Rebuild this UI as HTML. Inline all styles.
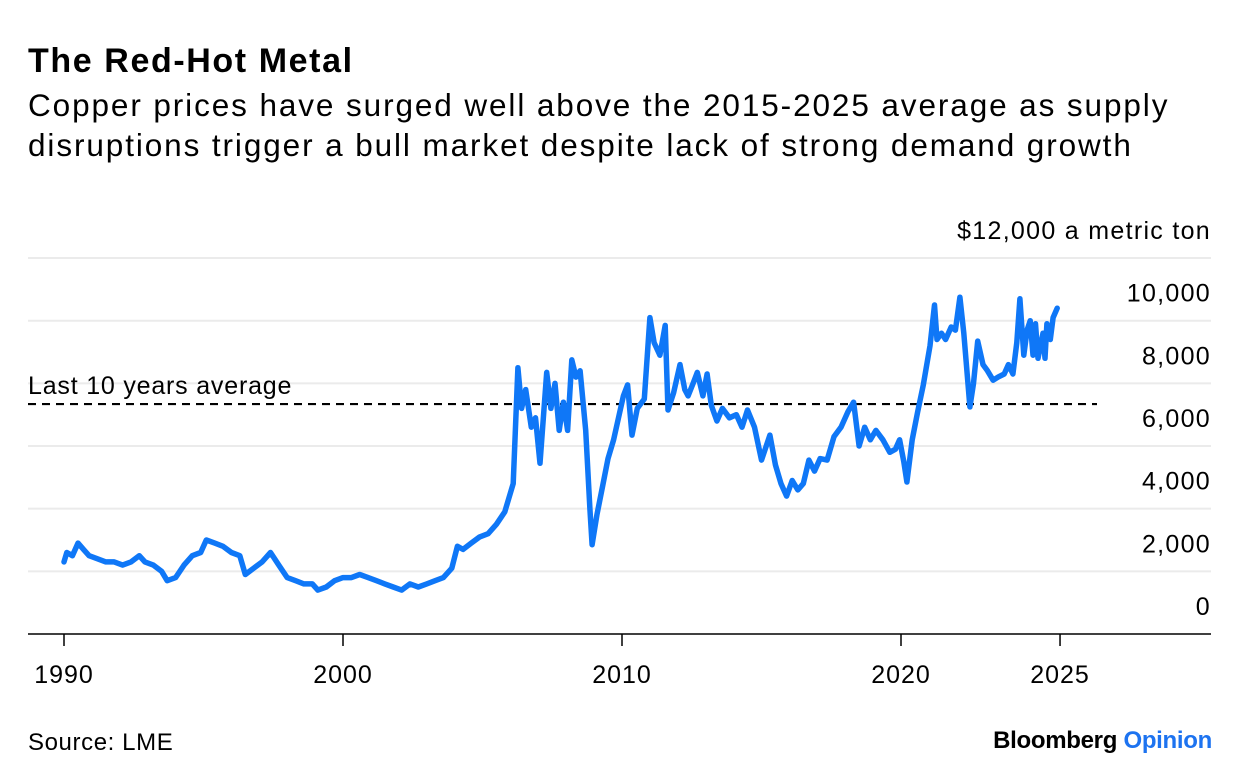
<!DOCTYPE html>
<html><head><meta charset="utf-8"><style>
body{margin:0;background:#fff;font-family:"Liberation Sans",sans-serif;color:#000}
#wrap{position:relative;width:1240px;height:784px;overflow:hidden}
.t{position:absolute;white-space:nowrap}
</style></head><body>
<div id="wrap">
<div class="t" style="left:28px;top:42px;font-size:34px;font-weight:bold;letter-spacing:1.6px">The Red-Hot Metal</div>
<div class="t" style="left:28px;top:85px;font-size:31.5px;line-height:40px;letter-spacing:1.9px">Copper prices have surged well above the 2015-2025 average as supply<br>disruptions trigger a bull market despite lack of strong demand growth</div>
<svg id="chart" width="1240" height="784" style="position:absolute;left:0;top:0"></svg>
<div class="t" style="left:28px;top:729px;font-size:24px;letter-spacing:0.6px">Source: LME</div>
<div class="t" style="right:28px;top:727px;font-size:24px;font-weight:bold;letter-spacing:-0.3px">Bloomberg <span style="color:#1d73f0;font-weight:bold">Opinion</span></div>
</div>
<script>
const years=[1990,1990.1,1990.3,1990.5,1990.7,1990.9,1991.2,1991.5,1991.8,1992.1,1992.4,1992.7,1992.9,1993.2,1993.5,1993.7,1994,1994.3,1994.6,1994.9,1995.1,1995.4,1995.7,1996,1996.3,1996.5,1996.8,1997.1,1997.4,1997.7,1998,1998.3,1998.6,1998.9,1999.1,1999.4,1999.7,2000,2000.3,2000.6,2000.9,2001.2,2001.5,2001.8,2002.1,2002.4,2002.7,2003,2003.3,2003.6,2003.9,2004.1,2004.3,2004.6,2004.9,2005.2,2005.5,2005.8,2006.1,2006.27,2006.4,2006.55,2006.75,2006.9,2007.06,2007.3,2007.45,2007.6,2007.75,2007.9,2008.05,2008.2,2008.35,2008.5,2008.7,2008.85,2008.93,2009.1,2009.3,2009.5,2009.7,2009.9,2010.05,2010.2,2010.36,2010.55,2010.8,2011.0,2011.15,2011.36,2011.55,2011.65,2011.85,2012.08,2012.25,2012.37,2012.55,2012.7,2012.9,2013.05,2013.2,2013.4,2013.6,2013.85,2014.1,2014.3,2014.5,2014.75,2015.0,2015.3,2015.5,2015.7,2015.9,2016.1,2016.3,2016.5,2016.7,2016.9,2017.1,2017.35,2017.6,2017.85,2018.1,2018.3,2018.5,2018.7,2018.9,2019.1,2019.35,2019.6,2019.8,2019.95,2020.1,2020.21,2020.4,2020.6,2020.8,2021.04,2021.2,2021.29,2021.45,2021.6,2021.8,2021.95,2022.11,2022.25,2022.47,2022.6,2022.75,2022.94,2023.1,2023.3,2023.48,2023.7,2023.85,2024.01,2024.15,2024.26,2024.4,2024.52,2024.63,2024.73,2024.82,2024.91,2025.0,2025.09,2025.16,2025.23,2025.35,2025.45,2025.6,2025.7];
const prices=[2.3,2.6,2.5,2.9,2.7,2.5,2.4,2.3,2.3,2.2,2.3,2.5,2.3,2.2,2.0,1.7,1.8,2.2,2.5,2.6,3.0,2.9,2.8,2.6,2.5,1.9,2.1,2.3,2.6,2.2,1.8,1.7,1.6,1.6,1.4,1.5,1.7,1.8,1.8,1.9,1.8,1.7,1.6,1.5,1.4,1.6,1.5,1.6,1.7,1.8,2.1,2.8,2.7,2.9,3.1,3.2,3.5,3.9,4.8,8.5,7.2,7.8,6.6,6.9,5.45,8.35,7.2,8.0,6.5,7.4,6.5,8.75,8.2,8.4,6.5,4.0,2.85,3.8,4.7,5.6,6.2,7.0,7.6,7.95,6.35,7.2,7.5,10.1,9.3,8.9,9.85,7.15,7.7,8.6,7.8,7.6,8.0,8.35,7.6,8.3,7.3,6.8,7.2,6.9,7.0,6.6,7.15,6.6,5.55,6.35,5.4,4.8,4.4,4.9,4.6,4.8,5.55,5.2,5.6,5.55,6.3,6.6,7.1,7.4,6.0,6.6,6.2,6.5,6.2,5.8,5.9,6.2,5.5,4.85,6.2,7.1,7.95,9.2,10.5,9.4,9.6,9.4,9.8,9.7,10.75,9.6,7.25,8.0,9.35,8.6,8.4,8.1,8.2,8.3,8.6,8.3,9.3,10.7,8.9,9.7,10.0,8.9,9.9,8.8,9.2,9.6,8.8,9.9,9.4,10.1,10.4];
const yTicks=[0,2,4,6,8,10,12];
const yTickLabels=["0","2,000","4,000","6,000","8,000","10,000","$12,000 a metric ton"];
const xTicks=[1990,2000,2010,2020,2025];
const xTickPos=[1990,2000,2010,2020,2025.7];
const avgValue=7.34;

const NS='http://www.w3.org/2000/svg';
const svg=document.getElementById('chart');
const x=v=>64+(v-1990)*27.9;
const y=v=>634-v*31.33;
function mk(tag,attrs){const e=document.createElementNS(NS,tag);for(const k in attrs)e.setAttribute(k,attrs[k]);svg.appendChild(e);return e;}
yTicks.forEach((t,i)=>{
  if(t>0){const g=mk('line',{x1:28,x2:1211,y1:y(t),y2:y(t),stroke:'#ebebeb','stroke-width':2});
  
  }
  const l=mk('text',{x:1211,y:y(t)-19,'text-anchor':'end','font-size':25,'letter-spacing':'1.3','font-family':'Liberation Sans, sans-serif',fill:'#000'});
  l.textContent=yTickLabels[i];
  
  
});
const base=mk('line',{x1:28,x2:1211,y1:634,y2:634,stroke:'#000','stroke-width':1.5});


xTicks.forEach((t,i)=>{
  const px=x(xTickPos[i]);
  const tk=mk('line',{x1:px,x2:px,y1:634,y2:646,stroke:'#000','stroke-width':1.5});
  
  
  const l=mk('text',{x:px,y:683,'text-anchor':'middle','font-size':25,'letter-spacing':'1','font-family':'Liberation Sans, sans-serif'});
  l.textContent=String(t);
  
  
});
const avg=mk('line',{x1:28,x2:1097,y1:y(avgValue),y2:y(avgValue),stroke:'#000','stroke-width':2.2,'stroke-dasharray':'8 6'});


const al=mk('text',{x:28,y:y(avgValue)-10,'font-size':25,'letter-spacing':'0.8','font-family':'Liberation Sans, sans-serif'});
al.textContent='Last 10 years average';


const d=years.map((v,i)=>(i?'L':'M')+x(v).toFixed(1)+' '+y(prices[i]).toFixed(1)).join(' ');
const p=mk('path',{d:d,fill:'none',stroke:'#0f77f7','stroke-width':5.5,'stroke-linejoin':'round','stroke-linecap':'round'});


</script>
</body></html>
